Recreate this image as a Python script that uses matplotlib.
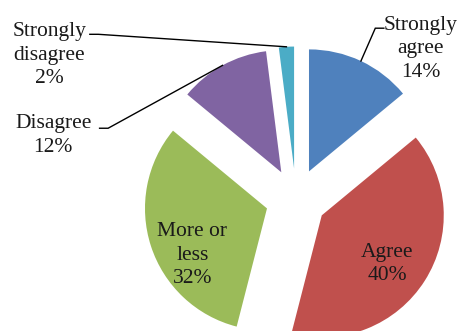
import numpy as np
import matplotlib
matplotlib.use("Agg")
import matplotlib.pyplot as plt

# Survey answers, clockwise from the top
categories = ["Strongly agree", "Agree", "More or less", "Disagree", "Strongly disagree"]
label_text = ["Strongly\nagree\n14%", "Agree\n40%", "More or\nless\n32%", "Disagree\n12%", "Strongly\ndisagree\n2%"]
shares = [14, 40, 32, 12, 2]
colors = ["#4F81BD", "#C0504D", "#9BBB59", "#8064A2", "#4BACC6"]

# Layout: label centres (data units, pie radius = 1) and which labels get leader lines
label_pos = [(1.02, 1.23), (0.75, -0.53), (-0.85, -0.46), (-1.99, 0.52), (-2.02, 1.18)]
leader_start = {0: (0.72, 1.40), 3: (-1.61, 0.58), 4: (-1.69, 1.35)}

plt.rcParams["font.family"] = ["Liberation Serif", "DejaVu Serif"]

fig = plt.figure(figsize=(4.64, 3.31), dpi=100)
ax = fig.add_axes([0, 0, 1, 1])
ax.set_axis_off()

wedges, _ = ax.pie(
    shares,
    colors=colors,
    startangle=90,
    counterclock=False,
    explode=[0.25] * len(shares),
    radius=1.0,
    wedgeprops=dict(linewidth=0),
)

ax.set_xlim(-296 / 122, 168 / 122)
ax.set_ylim(-132 / 122, 199 / 122)
ax.set_aspect("equal")

for i, (txt, (x, y)) in enumerate(zip(label_text, label_pos)):
    ax.text(x, y, txt, ha="center", va="center", multialignment="center",
            fontsize=15.5, color="#1a1a1a", linespacing=1.3)

# Leader lines: short horizontal stub, then straight to the arc midpoint
for i, (sx, sy) in leader_start.items():
    w = wedges[i]
    mid = np.deg2rad((w.theta1 + w.theta2) / 2)
    cx, cy = w.center
    ex, ey = cx + w.r * np.cos(mid), cy + w.r * np.sin(mid)
    stub = 0.07 if ex > sx else -0.07
    ax.plot([sx, sx + stub, ex], [sy, sy, ey], color="black", lw=1.0,
            solid_joinstyle="miter")

fig.savefig("out.png", dpi=100)
